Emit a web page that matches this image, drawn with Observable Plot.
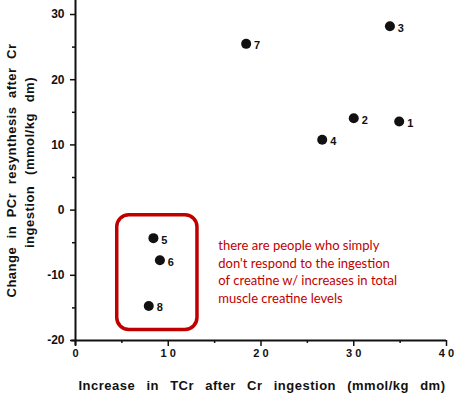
<!DOCTYPE html>
<html><head><meta charset="utf-8">
<script src="https://cdn.jsdelivr.net/npm/d3@7"></script>
<script src="https://cdn.jsdelivr.net/npm/@observablehq/plot@0.6"></script>
<style>body{margin:0;background:#fff}</style>
</head><body><div id="chart"></div>
<script>
const ids = ["1","2","3","4","5","6","7","8"];
const tcr = [34.9, 30.0, 33.9, 26.6, 8.4, 9.1, 18.4, 7.9];
const pcr = [13.6, 14.1, 28.2, 10.8, -4.3, -7.7, 25.5, -14.7];
const xTicks = [0, 10, 20, 30, 40];
const yTicks = [-20, -10, 0, 10, 20, 30];
const xMinor = [5, 15, 25, 35];
const yMinor = [-15, -5, 5, 15, 25];
const xLabel = "Increase in TCr after Cr ingestion (mmol/kg dm)";
const yLabel1 = "Change in PCr resynthesis after Cr";
const yLabel2 = "ingestion (mmol/kg dm)";
const boxX = [4.5, 13.15];
const boxY = [-18.4, -0.8];
const noteX = 15.4, noteY = -9.3;
const note = ["there are people who simply", "don't respond to the ingestion", "of creatine w/ increases in total", "muscle creatine levels"];

const pts = ids.map((id, i) => ({id, x: tcr[i], y: pcr[i]}));
const spaced = d => String(d).split("").join(" ");
const ink = "#111";

const chart = Plot.plot({
  width: 470, height: 397,
  marginLeft: 75, marginRight: 24, marginTop: 0, marginBottom: 57,
  x: {domain: [0, 40]},
  y: {domain: [-20, 32.15]},
  style: {fontFamily: "'Liberation Sans', Arial, sans-serif", fontWeight: "bold", fontSize: "12px", color: ink, background: "#fff"},
  marks: [
    Plot.axisX({ticks: xTicks, tickSize: 6, tickPadding: 3, tickFormat: spaced, label: null, strokeWidth: 1.5, fontSize: 11}),
    Plot.axisX({ticks: xMinor, tickSize: 3, tickFormat: () => "", label: null, strokeWidth: 1.5}),
    Plot.axisY({ticks: yTicks, tickSize: 5, tickPadding: 6, tickFormat: d => String(d), label: null, strokeWidth: 1.5, fontSize: 12}),
    Plot.axisY({ticks: yMinor, tickSize: 3, tickFormat: () => "", label: null, strokeWidth: 1.5}),
    Plot.ruleY([-20], {x1: -0.4, x2: 40, stroke: ink, strokeWidth: 2}),
    Plot.ruleX([0], {y1: -20.8, y2: 32.15, stroke: ink, strokeWidth: 2}),
    Plot.rect([0], {x1: boxX[0], x2: boxX[1], y1: boxY[0], y2: boxY[1], rx: 12, fill: "none", stroke: "#c00000", strokeWidth: 3.5}),
    Plot.dot(pts, {x: "x", y: "y", r: 5, fill: ink}),
    Plot.text(pts, {x: "x", y: "y", text: "id", dx: 11, dy: 2, fontSize: 11, fill: ink}),
    Plot.text([note.join("\n")], {x: noteX, y: noteY, text: d => d, textAnchor: "start", lineAnchor: "middle", lineHeight: 1.38, fill: "#c00000", fontFamily: "Lato, sans-serif", fontWeight: "normal", fontSize: 13}),
    Plot.text([xLabel], {frameAnchor: "bottom", dy: 49, dx: 1, textAnchor: "middle", text: d => d, fontSize: 13, fill: ink}),
    Plot.text([yLabel1], {frameAnchor: "left", dx: -64, dy: 0, rotate: -90, textAnchor: "middle", text: d => d, fontSize: 13, fill: ink}),
    Plot.text([yLabel2], {frameAnchor: "left", dx: -46, dy: -8, rotate: -90, textAnchor: "middle", text: d => d, fontSize: 13, fill: ink})
  ]
});
document.getElementById("chart").appendChild(chart);
// spread axis titles to the reference's wide spacing
const targets = new Map([[xLabel, 367], [yLabel1, 254], [yLabel2, 171]]);
chart.querySelectorAll("text").forEach(t => {
  const s = t.textContent;
  if (!targets.has(s)) return;
  t.style.letterSpacing = "0.5px";
  t.style.wordSpacing = "0px";
  const len = t.getComputedTextLength();
  const n = s.split(" ").length - 1;
  t.style.wordSpacing = Math.max(0, (targets.get(s) - len) / n) + "px";
});
</script>
</body></html>
